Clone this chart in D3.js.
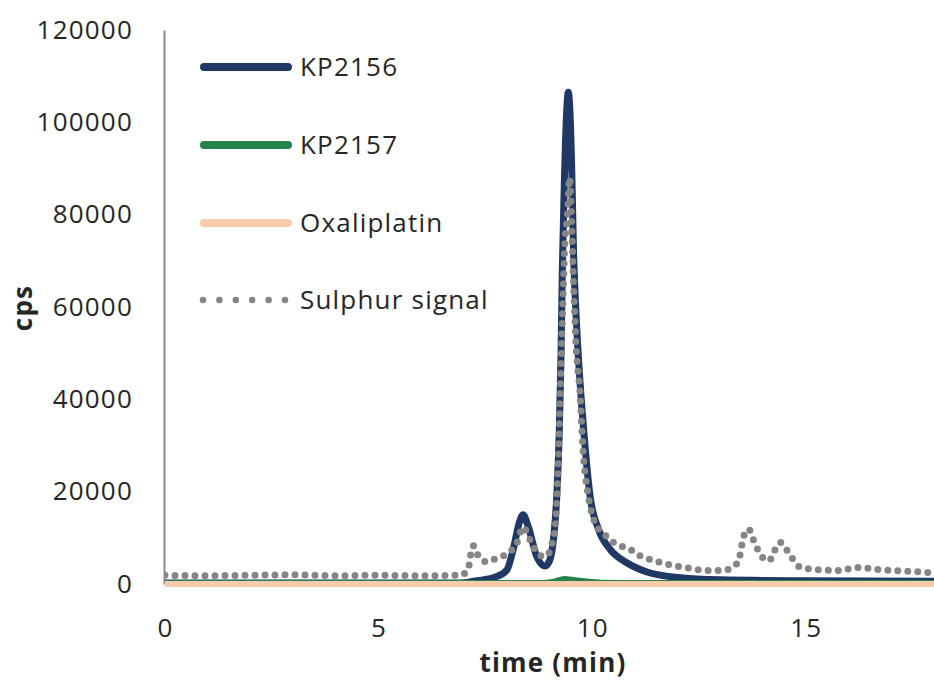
<!DOCTYPE html>
<html>
<head>
<meta charset="utf-8">
<script src="https://cdn.jsdelivr.net/npm/d3@7"></script>
<style>
    body { margin: 0; background: #fff; }
    text { font-family: 'Open Sans', sans-serif; fill: #262626; }
</style>
</head>
<body>
<div id="chart"></div>
<script>
// values
var kp2156Time = [0, 6.9, 7.3, 7.7, 8.0, 8.15, 8.3, 8.38, 8.5, 8.7, 8.9, 9.0, 9.1, 9.17, 9.23, 9.27, 9.3, 9.35, 9.4, 9.44,
    9.48, 9.52, 9.56, 9.64, 9.72, 9.8, 9.95, 10.15, 10.42, 10.81, 11.28, 12, 13, 15, 18];
var kp2156Cps = [200, 200, 700, 1400, 3000, 7500, 13500, 15000, 12500, 6000, 3900, 5000, 10300, 19000, 33400, 50000, 68000, 88000, 102000, 106500,
    102000, 90000, 73000, 55100, 43000, 33400, 19000, 11800, 7500, 4600, 2600, 1400, 900, 700, 600];

var kp2157Time = [0, 8.8, 9.1, 9.35, 9.6, 10.2, 11, 18];
var kp2157Cps = [300, 300, 600, 1200, 900, 400, 300, 300];

var oxaliplatinTime = [0, 18];
var oxaliplatinCps = [0, 0];

var sulphurTime = [0, 1, 2, 3, 4, 5, 6, 6.9, 7.05, 7.1, 7.15, 7.22, 7.3, 7.53, 7.75, 7.92, 8.1, 8.24, 8.38, 8.55, 8.7, 8.85, 8.94, 9.05,
    9.13, 9.18, 9.22, 9.27, 9.31, 9.36, 9.42, 9.47, 9.52, 9.56, 9.62, 9.72, 9.78, 9.91, 10.07, 10.34, 10.5, 10.89, 11.12, 11.36, 11.9,
    12.3, 12.69, 13.1, 13.3, 13.43, 13.49, 13.58, 13.66, 13.78, 13.93, 14.13, 14.33, 14.4, 14.64, 14.87, 15.18, 15.8, 16.2, 16.74, 17.5, 18];
var sulphurCps = [1900, 1800, 1900, 2000, 1800, 1900, 1800, 1900, 2600, 3200, 6100, 8300, 6600, 4800, 5500, 6100, 7200, 9000, 12300, 9500, 6900, 6000, 6100, 8500,
    12000, 20000, 31000, 48000, 60000, 74000, 80000, 88000, 78000, 66000, 52000, 40600, 29800, 19000, 13200, 10300, 9000, 7500, 6100, 5300, 4000,
    3400, 2900, 3000, 3800, 5000, 7900, 11200, 11900, 9400, 6500, 5000, 8300, 9000, 6100, 3600, 3200, 2900, 3600, 3100, 2700, 2400];

var yTicks = [0, 20000, 40000, 60000, 80000, 100000, 120000];
var xTicks = [0, 5, 10, 15];

var width = 934, height = 689;
var margin = { top: 30, right: 0, bottom: 105, left: 165 };

var svg = d3.select('#chart').append('svg')
    .attr('width', width)
    .attr('height', height);

var x = d3.scaleLinear().domain([0, 18]).range([margin.left, width - margin.right]);
var y = d3.scaleLinear().domain([0, 120000]).range([height - margin.bottom, margin.top]);

function zip(ts, vs) {
    return ts.map(function(t, i) { return { t: t, v: vs[i] }; });
}

var line = d3.line()
    .x(function(d) { return x(d.t); })
    .y(function(d) { return y(d.v); })
    .curve(d3.curveMonotoneX);

// y axis: line and labels only, no ticks
var yAxis = svg.append('g')
    .attr('transform', 'translate(' + (margin.left - 1) + ',0)')
    .call(d3.axisLeft(y).tickValues(yTicks).tickSize(0).tickPadding(31).tickFormat(d3.format('d')));
yAxis.select('.domain').attr('stroke', '#8c8c8c').attr('stroke-width', 2);
yAxis.selectAll('text')
    .attr('font-family', "'Open Sans', sans-serif")
    .attr('font-size', 26)
    .attr('letter-spacing', '1.2px')
    .attr('fill', '#262626');

var xAxis = svg.append('g')
    .attr('transform', 'translate(0,' + y(0) + ')')
    .call(d3.axisBottom(x).tickValues(xTicks).tickSize(0).tickPadding(35).tickFormat(d3.format('d')));
xAxis.select('.domain').remove();
xAxis.selectAll('text')
    .attr('font-family', "'Open Sans', sans-serif")
    .attr('font-size', 26)
    .attr('letter-spacing', '1.2px')
    .attr('fill', '#262626');

var series = [
    { name: 'KP2156', data: zip(kp2156Time, kp2156Cps), color: '#1f3864', width: 7, dash: null },
    { name: 'KP2157', data: zip(kp2157Time, kp2157Cps), color: '#23834a', width: 5, dash: null },
    { name: 'Oxaliplatin', data: zip(oxaliplatinTime, oxaliplatinCps), color: '#f8cbad', width: 6, dash: null },
    { name: 'Sulphur signal', data: zip(sulphurTime, sulphurCps), color: '#858585', width: 7, dash: '0 10' }
];

svg.append('defs').append('clipPath').attr('id', 'plot')
    .append('rect').attr('x', margin.left).attr('y', 0).attr('width', width - margin.left).attr('height', height - margin.bottom + 6);

var plot = svg.append('g').attr('clip-path', 'url(#plot)');
series.forEach(function(s) {
    plot.append('path')
        .datum(s.data)
        .attr('fill', 'none')
        .attr('stroke', s.color)
        .attr('stroke-width', s.width)
        .attr('stroke-linejoin', 'round')
        .attr('stroke-linecap', 'round')
        .attr('stroke-dasharray', s.dash)
        .attr('d', line);
});

// legend
var legend = svg.append('g');
var legendY = [67, 145, 223, 300];
series.forEach(function(s, i) {
    var g = legend.append('g').attr('transform', 'translate(0,' + legendY[i] + ')');
    if (s.dash) {
        g.append('line')
            .attr('x1', 203).attr('x2', 286)
            .attr('stroke', s.color)
            .attr('stroke-width', 6.5)
            .attr('stroke-linecap', 'round')
            .attr('stroke-dasharray', '0 16.4');
    } else {
        g.append('line')
            .attr('x1', 204).attr('x2', 288)
            .attr('stroke', s.color)
            .attr('stroke-width', 8)
            .attr('stroke-linecap', 'round');
    }
    g.append('text')
        .attr('x', 300)
        .attr('dy', '0.36em')
        .attr('font-size', 26)
        .attr('letter-spacing', '1.2px')
        .text(s.name);
});

svg.append('text')
    .attr('x', 553)
    .attr('y', 672)
    .attr('text-anchor', 'middle')
    .attr('font-size', 26)
    .attr('font-weight', 'bold')
    .attr('letter-spacing', '1.2px')
    .text('time (min)');

svg.append('text')
    .attr('transform', 'translate(32,308) rotate(-90)')
    .attr('text-anchor', 'middle')
    .attr('font-size', 26)
    .attr('font-weight', 'bold')
    .attr('letter-spacing', '1.2px')
    .text('cps');
</script>
</body>
</html>
